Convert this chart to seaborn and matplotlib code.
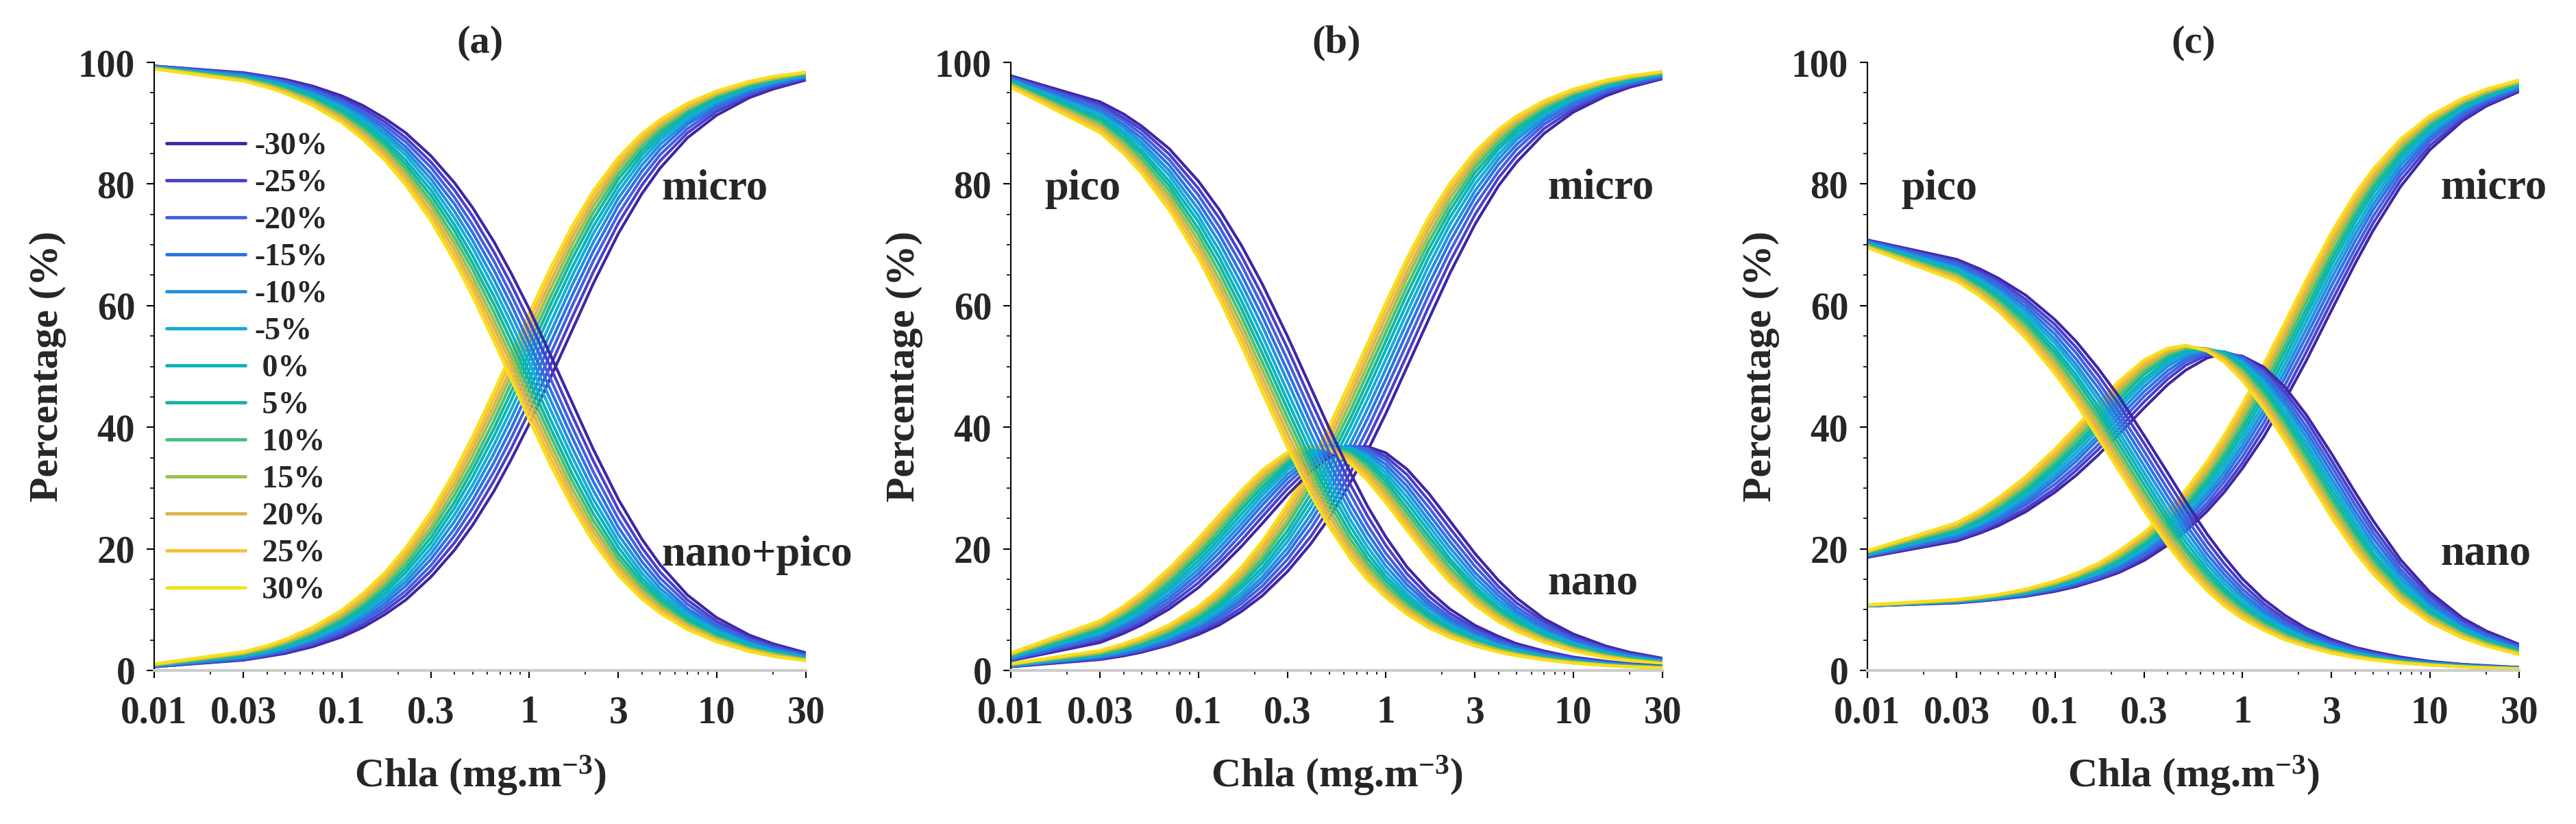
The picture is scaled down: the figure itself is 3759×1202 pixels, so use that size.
import pandas as pd
import matplotlib
matplotlib.use('Agg')
import matplotlib.pyplot as plt
import seaborn as sns
from matplotlib.ticker import FixedLocator, FixedFormatter, NullFormatter, MultipleLocator

# ---------------- data (percent) ----------------
chla = [0.01, 0.03, 0.04, 0.05, 0.07, 0.1, 0.13, 0.17, 0.22, 0.3, 0.4, 0.5, 0.65, 0.8, 1,
        1.3, 1.7, 2.2, 3, 4, 5, 7, 10, 15, 20, 30]
series = ['-30%', '-25%', '-20%', '-15%', '-10%', '-5%', ' 0%', ' 5%', ' 10%', ' 15%', ' 20%', ' 25%', ' 30%']

a_micro = [
    [0.6,1.7,2.3,2.8,3.9,5.5,7.1,9.2,11.6,15.4,19.8,23.9,29.5,34.6,40.5,48.1,56.0,63.6,71.9,78.4,82.6,87.6,91.3,94.2,95.6,97.1],
    [0.6,1.8,2.4,3.0,4.2,5.9,7.6,9.8,12.4,16.4,21.0,25.3,31.2,36.4,42.5,50.1,58.1,65.5,73.6,79.8,83.8,88.4,91.9,94.6,95.9,97.3],
    [0.7,1.9,2.6,3.2,4.5,6.3,8.1,10.4,13.1,17.3,22.2,26.7,32.7,38.1,44.3,52.0,60.0,67.3,75.1,81.0,84.8,89.1,92.4,94.9,96.2,97.5],
    [0.7,2.1,2.7,3.4,4.7,6.7,8.5,11.0,13.9,18.3,23.3,28.0,34.2,39.7,46.1,53.8,61.7,68.9,76.5,82.1,85.7,89.8,92.8,95.2,96.4,97.6],
    [0.7,2.2,2.9,3.6,5.0,7.0,9.0,11.6,14.6,19.2,24.5,29.3,35.7,41.3,47.7,55.5,63.4,70.4,77.7,83.1,86.5,90.3,93.2,95.5,96.6,97.7],
    [0.8,2.3,3.1,3.8,5.3,7.4,9.5,12.1,15.3,20.1,25.6,30.5,37.1,42.8,49.3,57.1,64.9,71.8,78.8,84.0,87.2,90.8,93.6,95.7,96.8,97.9],
    [0.8,2.4,3.2,4.0,5.5,7.8,9.9,12.7,16.1,21.0,26.7,31.8,38.5,44.3,50.9,58.7,66.3,73.0,79.8,84.8,87.8,91.3,93.9,95.9,97.0,98.0],
    [0.9,2.5,3.4,4.2,5.8,8.1,10.4,13.3,16.8,21.9,27.7,33.0,39.8,45.7,52.3,60.1,67.7,74.2,80.8,85.5,88.4,91.7,94.2,96.1,97.1,98.1],
    [0.9,2.7,3.5,4.4,6.1,8.5,10.9,13.9,17.5,22.8,28.8,34.1,41.1,47.1,53.7,61.4,68.9,75.3,81.6,86.2,88.9,92.1,94.5,96.3,97.2,98.2],
    [0.9,2.8,3.7,4.6,6.3,8.9,11.3,14.4,18.2,23.6,29.8,35.3,42.4,48.4,55.0,62.7,70.1,76.3,82.4,86.8,89.4,92.4,94.7,96.5,97.3,98.2],
    [1.0,2.9,3.8,4.8,6.6,9.2,11.8,15.0,18.8,24.5,30.8,36.4,43.6,49.6,56.3,63.9,71.2,77.2,83.1,87.3,89.8,92.7,94.9,96.6,97.5,98.3],
    [1.0,3.0,4.0,5.0,6.8,9.6,12.2,15.6,19.5,25.3,31.8,37.4,44.8,50.9,57.5,65.1,72.2,78.1,83.8,87.8,90.2,93.0,95.1,96.7,97.6,98.4],
    [1.1,3.1,4.1,5.1,7.1,9.9,12.7,16.1,20.2,26.1,32.7,38.5,45.9,52.0,58.7,66.2,73.1,78.9,84.4,88.3,90.6,93.3,95.3,96.9,97.7,98.4],
]
a_nanopico = [
    [99.4,98.3,97.7,97.2,96.1,94.5,92.9,90.8,88.4,84.6,80.2,76.1,70.5,65.4,59.5,51.9,44.0,36.4,28.1,21.6,17.4,12.4,8.7,5.8,4.4,2.9],
    [99.4,98.2,97.6,97.0,95.8,94.1,92.4,90.2,87.6,83.6,79.0,74.7,68.8,63.6,57.5,49.9,41.9,34.5,26.4,20.2,16.2,11.6,8.1,5.4,4.1,2.7],
    [99.3,98.1,97.4,96.8,95.5,93.7,91.9,89.6,86.9,82.7,77.8,73.3,67.3,61.9,55.7,48.0,40.0,32.7,24.9,19.0,15.2,10.9,7.6,5.1,3.8,2.5],
    [99.3,97.9,97.3,96.6,95.3,93.3,91.5,89.0,86.1,81.7,76.7,72.0,65.8,60.3,53.9,46.2,38.3,31.1,23.5,17.9,14.3,10.2,7.2,4.8,3.6,2.4],
    [99.3,97.8,97.1,96.4,95.0,93.0,91.0,88.4,85.4,80.8,75.5,70.7,64.3,58.7,52.3,44.5,36.6,29.6,22.3,16.9,13.5,9.7,6.8,4.5,3.4,2.3],
    [99.2,97.7,96.9,96.2,94.7,92.6,90.5,87.9,84.7,79.9,74.4,69.5,62.9,57.2,50.7,42.9,35.1,28.2,21.2,16.0,12.8,9.2,6.4,4.3,3.2,2.1],
    [99.2,97.6,96.8,96.0,94.5,92.2,90.1,87.3,83.9,79.0,73.3,68.2,61.5,55.7,49.1,41.3,33.7,27.0,20.2,15.2,12.2,8.7,6.1,4.1,3.0,2.0],
    [99.1,97.5,96.6,95.8,94.2,91.9,89.6,86.7,83.2,78.1,72.3,67.0,60.2,54.3,47.7,39.9,32.3,25.8,19.2,14.5,11.6,8.3,5.8,3.9,2.9,1.9],
    [99.1,97.3,96.5,95.6,93.9,91.5,89.1,86.1,82.5,77.2,71.2,65.9,58.9,52.9,46.3,38.6,31.1,24.7,18.4,13.8,11.1,7.9,5.5,3.7,2.8,1.8],
    [99.1,97.2,96.3,95.4,93.7,91.1,88.7,85.6,81.8,76.4,70.2,64.7,57.6,51.6,45.0,37.3,29.9,23.7,17.6,13.2,10.6,7.6,5.3,3.5,2.7,1.8],
    [99.0,97.1,96.2,95.2,93.4,90.8,88.2,85.0,81.2,75.5,69.2,63.6,56.4,50.4,43.7,36.1,28.8,22.8,16.9,12.7,10.2,7.3,5.1,3.4,2.5,1.7],
    [99.0,97.0,96.0,95.0,93.2,90.4,87.8,84.4,80.5,74.7,68.2,62.6,55.2,49.1,42.5,34.9,27.8,21.9,16.2,12.2,9.8,7.0,4.9,3.3,2.4,1.6],
    [98.9,96.9,95.9,94.9,92.9,90.1,87.3,83.9,79.8,73.9,67.3,61.5,54.1,48.0,41.3,33.8,26.9,21.1,15.6,11.7,9.4,6.7,4.7,3.1,2.3,1.6],
]
b_micro = [
    [0.6,1.8,2.4,3.0,4.2,5.9,7.5,9.7,12.3,16.3,20.9,25.1,31.0,36.1,42.2,49.9,57.8,65.3,73.4,79.7,83.6,88.3,91.8,94.5,95.9,97.3],
    [0.7,1.9,2.6,3.2,4.4,6.3,8.0,10.3,13.1,17.3,22.1,26.6,32.6,38.0,44.2,51.9,59.9,67.2,75.0,81.0,84.7,89.1,92.3,94.9,96.2,97.4],
    [0.7,2.1,2.7,3.4,4.7,6.7,8.5,11.0,13.9,18.3,23.4,28.0,34.2,39.7,46.1,53.8,61.8,68.9,76.5,82.1,85.7,89.8,92.8,95.2,96.4,97.6],
    [0.7,2.2,2.9,3.6,5.0,7.1,9.0,11.6,14.7,19.3,24.6,29.4,35.8,41.4,47.8,55.6,63.5,70.5,77.8,83.2,86.5,90.4,93.3,95.5,96.6,97.8],
    [0.8,2.3,3.1,3.8,5.3,7.4,9.5,12.2,15.4,20.2,25.7,30.7,37.3,43.0,49.5,57.3,65.1,71.9,78.9,84.1,87.3,90.9,93.6,95.8,96.8,97.9],
    [0.8,2.4,3.2,4.0,5.6,7.8,10.0,12.8,16.2,21.2,26.9,32.0,38.8,44.6,51.1,58.9,66.6,73.3,80.0,84.9,87.9,91.4,94.0,96.0,97.0,98.0],
    [0.9,2.6,3.4,4.2,5.9,8.2,10.5,13.5,16.9,22.1,28.0,33.3,40.2,46.1,52.7,60.4,68.0,74.5,81.0,85.7,88.5,91.8,94.3,96.2,97.1,98.1],
    [0.9,2.7,3.6,4.4,6.1,8.6,11.0,14.1,17.7,23.0,29.1,34.5,41.5,47.5,54.1,61.9,69.3,75.6,81.9,86.3,89.1,92.2,94.5,96.4,97.3,98.2],
    [1.0,2.8,3.7,4.6,6.4,9.0,11.5,14.7,18.4,24.0,30.2,35.7,42.8,48.9,55.5,63.2,70.5,76.6,82.7,87.0,89.6,92.5,94.8,96.5,97.4,98.3],
    [1.0,2.9,3.9,4.8,6.7,9.4,12.0,15.3,19.1,24.8,31.2,36.8,44.1,50.2,56.8,64.5,71.6,77.6,83.4,87.5,90.0,92.9,95.0,96.7,97.5,98.3],
    [1.0,3.1,4.1,5.1,7.0,9.8,12.4,15.8,19.9,25.7,32.2,38.0,45.3,51.5,58.1,65.6,72.7,78.5,84.1,88.1,90.4,93.2,95.2,96.8,97.6,98.4],
    [1.1,3.2,4.2,5.3,7.3,10.1,12.9,16.4,20.6,26.6,33.3,39.1,46.5,52.7,59.3,66.8,73.7,79.3,84.7,88.5,90.8,93.4,95.4,96.9,97.7,98.5],
    [1.1,3.3,4.4,5.5,7.5,10.5,13.4,17.0,21.3,27.4,34.2,40.2,47.7,53.8,60.4,67.8,74.6,80.1,85.3,89.0,91.2,93.7,95.6,97.1,97.8,98.5],
]
b_nano = [
    [1.6,4.6,6.1,7.5,10.1,13.6,16.8,20.4,24.2,28.9,32.8,35.1,36.7,36.8,35.8,33.1,29.1,24.6,19.2,14.8,11.9,8.5,6.0,4.0,3.0,2.0],
    [1.7,5.0,6.5,7.9,10.7,14.4,17.7,21.4,25.3,29.9,33.6,35.7,36.9,36.6,35.2,32.2,27.9,23.4,18.1,13.8,11.1,8.0,5.6,3.7,2.8,1.9],
    [1.8,5.3,6.9,8.4,11.3,15.2,18.5,22.4,26.2,30.8,34.3,36.1,36.9,36.4,34.6,31.2,26.8,22.2,17.1,13.0,10.4,7.5,5.2,3.5,2.6,1.7],
    [1.9,5.6,7.3,8.9,11.9,15.9,19.4,23.3,27.2,31.6,34.8,36.4,36.9,36.0,33.9,30.3,25.7,21.2,16.1,12.3,9.8,7.0,4.9,3.3,2.5,1.6],
    [2.1,5.9,7.7,9.3,12.5,16.6,20.2,24.1,28.0,32.3,35.3,36.7,36.7,35.6,33.2,29.4,24.7,20.2,15.3,11.6,9.3,6.6,4.6,3.1,2.3,1.5],
    [2.2,6.2,8.0,9.8,13.1,17.3,21.0,24.9,28.8,33.0,35.8,36.8,36.5,35.1,32.5,28.5,23.8,19.3,14.5,11.0,8.8,6.3,4.4,2.9,2.2,1.5],
    [2.3,6.5,8.4,10.2,13.6,18.0,21.7,25.7,29.5,33.6,36.1,36.9,36.3,34.6,31.8,27.6,22.9,18.4,13.8,10.4,8.4,6.0,4.2,2.8,2.1,1.4],
    [2.4,6.8,8.8,10.7,14.2,18.7,22.4,26.5,30.2,34.1,36.4,36.9,36.0,34.1,31.1,26.7,22.0,17.7,13.2,9.9,8.0,5.7,4.0,2.7,2.0,1.3],
    [2.5,7.1,9.2,11.1,14.7,19.3,23.1,27.2,30.9,34.6,36.6,36.9,35.6,33.5,30.4,25.9,21.2,16.9,12.6,9.5,7.6,5.4,3.8,2.5,1.9,1.3],
    [2.6,7.4,9.5,11.6,15.2,19.9,23.8,27.8,31.5,35.0,36.7,36.8,35.3,33.0,29.7,25.1,20.4,16.3,12.1,9.1,7.3,5.2,3.6,2.4,1.8,1.2],
    [2.7,7.7,9.9,12.0,15.8,20.5,24.4,28.5,32.0,35.3,36.8,36.6,34.9,32.4,29.0,24.4,19.7,15.6,11.6,8.7,7.0,5.0,3.5,2.3,1.7,1.2],
    [2.8,7.9,10.2,12.4,16.3,21.1,25.0,29.1,32.5,35.7,36.9,36.5,34.4,31.8,28.3,23.7,19.0,15.0,11.1,8.4,6.7,4.8,3.3,2.2,1.7,1.1],
    [2.9,8.2,10.6,12.8,16.8,21.7,25.6,29.6,33.0,35.9,36.9,36.3,34.0,31.2,27.6,23.0,18.4,14.5,10.7,8.0,6.4,4.6,3.2,2.1,1.6,1.1],
]
b_pico = [
    [97.8,93.5,91.5,89.5,85.8,80.5,75.7,69.9,63.5,54.9,46.4,39.8,32.4,27.0,22.0,17.0,13.1,10.1,7.4,5.6,4.4,3.2,2.2,1.5,1.1,0.7],
    [97.6,93.1,90.9,88.9,84.9,79.3,74.3,68.2,61.6,52.9,44.3,37.8,30.5,25.4,20.6,15.9,12.2,9.4,6.9,5.2,4.1,3.0,2.1,1.4,1.0,0.7],
    [97.5,92.7,90.4,88.2,84.0,78.2,72.9,66.7,59.9,51.0,42.4,35.9,28.9,23.9,19.3,14.9,11.4,8.8,6.5,4.9,3.9,2.8,1.9,1.3,1.0,0.6],
    [97.3,92.2,89.8,87.5,83.1,77.0,71.6,65.1,58.2,49.2,40.6,34.2,27.3,22.6,18.2,14.1,10.8,8.3,6.1,4.6,3.7,2.6,1.8,1.2,0.9,0.6],
    [97.2,91.8,89.3,86.8,82.2,75.9,70.3,63.6,56.6,47.5,38.9,32.6,26.0,21.4,17.2,13.3,10.2,7.9,5.8,4.3,3.5,2.5,1.7,1.2,0.9,0.6],
    [97.0,91.4,88.7,86.2,81.4,74.8,69.0,62.2,55.0,45.8,37.4,31.2,24.7,20.3,16.3,12.6,9.6,7.4,5.5,4.1,3.3,2.3,1.6,1.1,0.8,0.5],
    [96.9,90.9,88.2,85.5,80.5,73.8,67.8,60.8,53.5,44.3,35.9,29.9,23.6,19.3,15.5,12.0,9.1,7.1,5.2,3.9,3.1,2.2,1.6,1.0,0.8,0.5],
    [96.7,90.5,87.6,84.9,79.7,72.7,66.6,59.5,52.1,42.9,34.5,28.6,22.5,18.4,14.8,11.4,8.7,6.7,4.9,3.7,3.0,2.1,1.5,1.0,0.7,0.5],
    [96.5,90.1,87.1,84.2,78.9,71.7,65.4,58.2,50.7,41.5,33.3,27.5,21.5,17.6,14.1,10.9,8.3,6.4,4.7,3.5,2.8,2.0,1.4,0.9,0.7,0.5],
    [96.4,89.7,86.6,83.6,78.1,70.7,64.2,56.9,49.4,40.2,32.1,26.4,20.6,16.9,13.5,10.4,8.0,6.1,4.5,3.4,2.7,1.9,1.4,0.9,0.7,0.5],
    [96.2,89.3,86.0,83.0,77.3,69.7,63.1,55.7,48.1,38.9,30.9,25.4,19.8,16.2,13.0,10.0,7.6,5.9,4.3,3.2,2.6,1.9,1.3,0.9,0.6,0.4],
    [96.1,88.9,85.5,82.3,76.5,68.7,62.0,54.5,46.9,37.7,29.9,24.4,19.0,15.5,12.4,9.6,7.3,5.7,4.1,3.1,2.5,1.8,1.2,0.8,0.6,0.4],
    [95.9,88.4,85.0,81.7,75.7,67.8,61.0,53.4,45.7,36.6,28.8,23.6,18.3,14.9,12.0,9.2,7.0,5.4,4.0,3.0,2.4,1.7,1.2,0.8,0.6,0.4],
]
c_micro = [
    [10.6,11.1,11.4,11.7,12.2,13.0,13.8,14.9,16.1,18.1,20.6,22.9,26.2,29.3,33.2,38.4,44.6,51.0,59.3,66.9,72.4,79.6,85.6,90.4,92.8,95.2],
    [10.6,11.2,11.5,11.7,12.3,13.2,14.0,15.1,16.4,18.5,21.1,23.5,26.9,30.1,34.1,39.6,45.8,52.4,60.7,68.2,73.6,80.6,86.3,90.8,93.1,95.4],
    [10.6,11.2,11.5,11.8,12.4,13.3,14.2,15.3,16.7,18.9,21.6,24.1,27.6,31.0,35.1,40.7,47.1,53.7,62.0,69.4,74.7,81.5,87.0,91.3,93.5,95.6],
    [10.6,11.3,11.6,11.9,12.5,13.5,14.4,15.6,17.0,19.3,22.1,24.7,28.4,31.8,36.1,41.8,48.3,55.0,63.3,70.6,75.8,82.3,87.6,91.7,93.8,95.8],
    [10.6,11.3,11.6,12.0,12.6,13.6,14.6,15.8,17.3,19.7,22.6,25.3,29.1,32.6,37.0,42.8,49.4,56.2,64.5,71.7,76.7,83.1,88.1,92.1,94.0,96.0],
    [10.7,11.4,11.7,12.0,12.7,13.7,14.7,16.0,17.6,20.1,23.0,25.8,29.8,33.4,37.9,43.8,50.5,57.4,65.6,72.7,77.6,83.8,88.6,92.4,94.3,96.2],
    [10.7,11.4,11.8,12.1,12.8,13.9,14.9,16.3,17.9,20.5,23.5,26.4,30.5,34.2,38.8,44.8,51.6,58.5,66.7,73.7,78.5,84.4,89.1,92.7,94.5,96.4],
    [10.7,11.4,11.8,12.2,12.9,14.0,15.1,16.5,18.2,20.9,24.0,27.0,31.2,35.0,39.7,45.8,52.7,59.5,67.7,74.6,79.3,85.0,89.5,93.0,94.7,96.5],
    [10.7,11.5,11.9,12.3,13.0,14.2,15.3,16.7,18.5,21.2,24.5,27.5,31.8,35.8,40.5,46.8,53.7,60.6,68.6,75.4,80.0,85.6,89.9,93.3,94.9,96.6],
    [10.7,11.5,11.9,12.3,13.1,14.3,15.5,17.0,18.8,21.6,25.0,28.1,32.5,36.5,41.4,47.7,54.7,61.5,69.6,76.2,80.7,86.1,90.3,93.5,95.1,96.8],
    [10.7,11.6,12.0,12.4,13.2,14.4,15.6,17.2,19.1,22.0,25.4,28.7,33.1,37.2,42.2,48.6,55.6,62.5,70.4,77.0,81.3,86.6,90.6,93.7,95.3,96.9],
    [10.7,11.6,12.0,12.5,13.3,14.6,15.8,17.4,19.4,22.4,25.9,29.2,33.8,38.0,43.0,49.5,56.5,63.4,71.3,77.7,81.9,87.0,90.9,93.9,95.5,97.0],
    [10.8,11.7,12.1,12.5,13.4,14.7,16.0,17.6,19.7,22.7,26.3,29.7,34.4,38.7,43.8,50.3,57.4,64.3,72.1,78.4,82.5,87.4,91.2,94.1,95.6,97.1],
]
c_nano = [
    [18.6,21.3,22.6,23.8,26.1,29.3,32.1,35.4,38.9,43.2,47.0,49.4,51.4,52.1,51.7,49.9,46.5,42.0,35.6,29.3,24.6,18.2,12.9,8.6,6.5,4.3],
    [18.7,21.6,22.9,24.2,26.6,29.9,32.9,36.3,39.8,44.2,47.9,50.2,51.9,52.3,51.6,49.4,45.7,41.1,34.5,28.2,23.5,17.4,12.3,8.2,6.1,4.1],
    [18.8,21.8,23.2,24.6,27.2,30.6,33.6,37.1,40.7,45.1,48.6,50.8,52.2,52.4,51.5,49.0,45.0,40.1,33.5,27.2,22.6,16.6,11.7,7.8,5.9,3.9],
    [18.9,22.1,23.6,25.0,27.7,31.3,34.4,38.0,41.6,45.9,49.3,51.3,52.5,52.4,51.2,48.4,44.2,39.2,32.5,26.2,21.7,15.9,11.2,7.5,5.6,3.7],
    [19.0,22.3,23.9,25.4,28.2,31.9,35.1,38.7,42.4,46.7,50.0,51.8,52.7,52.4,51.0,47.9,43.5,38.3,31.5,25.3,20.8,15.2,10.7,7.1,5.3,3.6],
    [19.1,22.6,24.2,25.8,28.7,32.5,35.8,39.5,43.2,47.4,50.5,52.2,52.8,52.3,50.6,47.3,42.7,37.4,30.6,24.4,20.1,14.6,10.2,6.8,5.1,3.4],
    [19.2,22.9,24.6,26.2,29.2,33.1,36.5,40.2,43.9,48.0,51.0,52.5,52.9,52.2,50.3,46.8,41.9,36.6,29.7,23.6,19.3,14.0,9.8,6.6,4.9,3.3],
    [19.3,23.1,24.9,26.6,29.6,33.7,37.1,40.9,44.6,48.7,51.5,52.8,52.9,52.0,49.9,46.2,41.2,35.7,28.8,22.8,18.6,13.5,9.5,6.3,4.7,3.2],
    [19.4,23.4,25.2,26.9,30.1,34.3,37.8,41.6,45.3,49.2,51.9,53.0,52.9,51.8,49.5,45.6,40.4,34.9,28.0,22.1,18.0,13.0,9.1,6.1,4.6,3.0],
    [19.5,23.6,25.5,27.3,30.6,34.8,38.4,42.2,45.9,49.7,52.2,53.2,52.9,51.5,49.1,44.9,39.7,34.1,27.2,21.4,17.4,12.5,8.8,5.9,4.4,2.9],
    [19.6,23.9,25.8,27.7,31.0,35.4,39.0,42.9,46.5,50.2,52.5,53.3,52.8,51.3,48.6,44.3,39.0,33.3,26.5,20.7,16.8,12.1,8.5,5.7,4.2,2.8],
    [19.6,24.1,26.1,28.0,31.5,35.9,39.6,43.4,47.0,50.7,52.8,53.4,52.7,51.0,48.2,43.7,38.3,32.6,25.8,20.1,16.3,11.7,8.2,5.5,4.1,2.7],
    [19.7,24.3,26.4,28.4,31.9,36.4,40.1,44.0,47.6,51.1,53.0,53.5,52.5,50.7,47.7,43.1,37.6,31.9,25.1,19.5,15.8,11.3,7.9,5.3,4.0,2.6],
]
c_pico = [
    [70.8,67.6,66.0,64.5,61.7,57.7,54.1,49.7,45.0,38.6,32.5,27.7,22.4,18.7,15.1,11.7,9.0,6.9,5.1,3.8,3.1,2.2,1.5,1.0,0.8,0.5],
    [70.7,67.3,65.6,64.1,61.0,56.9,53.1,48.6,43.7,37.3,31.1,26.4,21.2,17.6,14.2,11.0,8.4,6.5,4.8,3.6,2.9,2.0,1.4,1.0,0.7,0.5],
    [70.6,67.0,65.2,63.6,60.4,56.1,52.2,47.5,42.5,36.0,29.8,25.1,20.1,16.6,13.4,10.4,7.9,6.1,4.5,3.4,2.7,1.9,1.3,0.9,0.7,0.4],
    [70.5,66.7,64.8,63.1,59.8,55.3,51.2,46.5,41.4,34.8,28.6,24.0,19.1,15.8,12.7,9.8,7.5,5.8,4.2,3.2,2.5,1.8,1.3,0.8,0.6,0.4],
    [70.4,66.3,64.5,62.6,59.2,54.5,50.3,45.4,40.3,33.6,27.5,23.0,18.2,15.0,12.1,9.3,7.1,5.5,4.0,3.0,2.4,1.7,1.2,0.8,0.6,0.4],
    [70.3,66.0,64.1,62.2,58.6,53.8,49.5,44.5,39.2,32.5,26.4,22.0,17.4,14.3,11.5,8.8,6.8,5.2,3.8,2.9,2.3,1.6,1.1,0.8,0.6,0.4],
    [70.2,65.7,63.7,61.7,58.0,53.0,48.6,43.5,38.2,31.5,25.4,21.1,16.6,13.6,10.9,8.4,6.4,5.0,3.6,2.7,2.2,1.6,1.1,0.7,0.5,0.4],
    [70.0,65.5,63.3,61.3,57.4,52.3,47.8,42.6,37.2,30.5,24.5,20.2,15.9,13.0,10.4,8.0,6.1,4.8,3.5,2.6,2.1,1.5,1.0,0.7,0.5,0.3],
    [69.9,65.2,62.9,60.8,56.9,51.6,46.9,41.7,36.2,29.5,23.6,19.5,15.2,12.5,10.0,7.7,5.9,4.5,3.3,2.5,2.0,1.4,1.0,0.7,0.5,0.3],
    [69.8,64.9,62.6,60.4,56.3,50.9,46.2,40.8,35.3,28.7,22.8,18.7,14.6,12.0,9.6,7.4,5.6,4.4,3.2,2.4,1.9,1.4,1.0,0.6,0.5,0.3],
    [69.7,64.6,62.2,59.9,55.7,50.2,45.4,40.0,34.4,27.8,22.0,18.1,14.1,11.5,9.2,7.1,5.4,4.2,3.1,2.3,1.8,1.3,0.9,0.6,0.5,0.3],
    [69.6,64.3,61.8,59.5,55.2,49.5,44.6,39.1,33.6,27.0,21.3,17.4,13.6,11.1,8.9,6.8,5.2,4.0,3.0,2.2,1.8,1.3,0.9,0.6,0.4,0.3],
    [69.5,64.0,61.5,59.1,54.6,48.8,43.9,38.3,32.8,26.2,20.6,16.8,13.1,10.6,8.5,6.6,5.0,3.9,2.8,2.1,1.7,1.2,0.9,0.6,0.4,0.3],
]

major_ticks = [0.01, 0.03, 0.1, 0.3, 1, 3, 10, 30]
major_labels = ['0.01', '0.03', '0.1', '0.3', '1', '3', '10', '30']

# ---------------- style ----------------
colors = ['#3e26a8', '#4840cc', '#4560d8', '#2a72e8', '#2290d8', '#14acd8', '#08b4b8',
          '#18b49c', '#44c07c', '#9cc04c', '#dcb44c', '#f8c038', '#f5e11c']

sns.set_style('ticks')
plt.rcParams['font.family'] = ['Liberation Serif', 'DejaVu Serif']
plt.rcParams['font.weight'] = 'bold'
plt.rcParams['mathtext.fontset'] = 'custom'
plt.rcParams['mathtext.rm'] = 'Liberation Serif:bold'
plt.rcParams['mathtext.it'] = 'Liberation Serif:bold'
plt.rcParams['mathtext.bf'] = 'Liberation Serif:bold'

fig = plt.figure(figsize=(37.59, 12.02), dpi=100)
lefts = [225 / 3759, 1475 / 3759, 2725 / 3759]
W = 951 / 3759
B = (1202 - 978) / 1202
H = 887 / 1202

panels = [
    ('(a)', [a_micro, a_nanopico],
     [('micro', 5.1, 77.5), ('nano+pico', 5.1, 17.2)]),
    ('(b)', [b_micro, b_nano, b_pico],
     [('pico', 0.0152, 77.4), ('micro', 7.3, 77.6), ('nano', 7.3, 12.6)]),
    ('(c)', [c_micro, c_nano, c_pico],
     [('pico', 0.0152, 77.4), ('micro', 11.4, 77.6), ('nano', 11.4, 17.4)]),
]

axes = []
for i, (title, comps, notes) in enumerate(panels):
    ax = fig.add_axes([lefts[i], B, W, H])
    axes.append(ax)
    for table in comps:
        rows = []
        for s, vals in zip(series, table):
            for x, v in zip(chla, vals):
                rows.append((x, v, s))
        df = pd.DataFrame(rows, columns=['chla', 'pct', 'series'])
        sns.lineplot(data=df, x='chla', y='pct', hue='series', hue_order=series,
                     palette=colors, estimator=None, lw=3.0, ax=ax, legend=False)
    ax.set_xscale('log')
    ax.set_xlim(0.01, 30)
    ax.set_ylim(0, 100)
    ax.xaxis.set_major_locator(FixedLocator(major_ticks))
    ax.xaxis.set_major_formatter(FixedFormatter(major_labels))
    ax.xaxis.set_minor_formatter(NullFormatter())
    ax.yaxis.set_major_locator(MultipleLocator(20))
    ax.yaxis.set_minor_locator(MultipleLocator(5))
    ax.tick_params(axis='both', which='major', direction='out', length=8, width=1.5,
                   labelsize=40, color='black')
    ax.tick_params(axis='both', which='minor', direction='out', length=4, width=1.2, color='black')
    ax.tick_params(axis='x', which='major', pad=18)
    ax.tick_params(axis='y', which='major', pad=12)
    for lab in ax.get_xticklabels() + ax.get_yticklabels():
        lab.set_fontweight('bold')
    for sp in ['top', 'right']:
        ax.spines[sp].set_visible(False)
    ax.spines['left'].set_color('black')
    ax.spines['left'].set_linewidth(1.5)
    ax.spines['bottom'].set_color('#cccccc')
    ax.spines['bottom'].set_linewidth(3)
    ax.set_xlabel('Chla (mg.m$^{-3}$)', fontsize=43, fontweight='bold', labelpad=24)
    ax.set_ylabel('Percentage (%)', fontsize=43, fontweight='bold', labelpad=12)
    ax.set_title(title, fontsize=42, fontweight='bold', pad=10)
    for txt, x, y in notes:
        ax.text(x, y, txt, fontsize=45, fontweight='bold', ha='left', va='baseline')

ax = axes[0]
handles = ax.get_lines()[:13]
leg = ax.legend(handles=handles, labels=series, loc='upper left', bbox_to_anchor=(0.019, 0.885),
                frameon=False, fontsize=33, handlelength=2.5, handletextpad=0.3,
                labelspacing=0.26, borderpad=0, borderaxespad=0)
for t in leg.get_texts():
    t.set_fontweight('bold')
for l in leg.get_lines():
    l.set_linewidth(3.5)

fig.savefig('out.png', dpi=100)
